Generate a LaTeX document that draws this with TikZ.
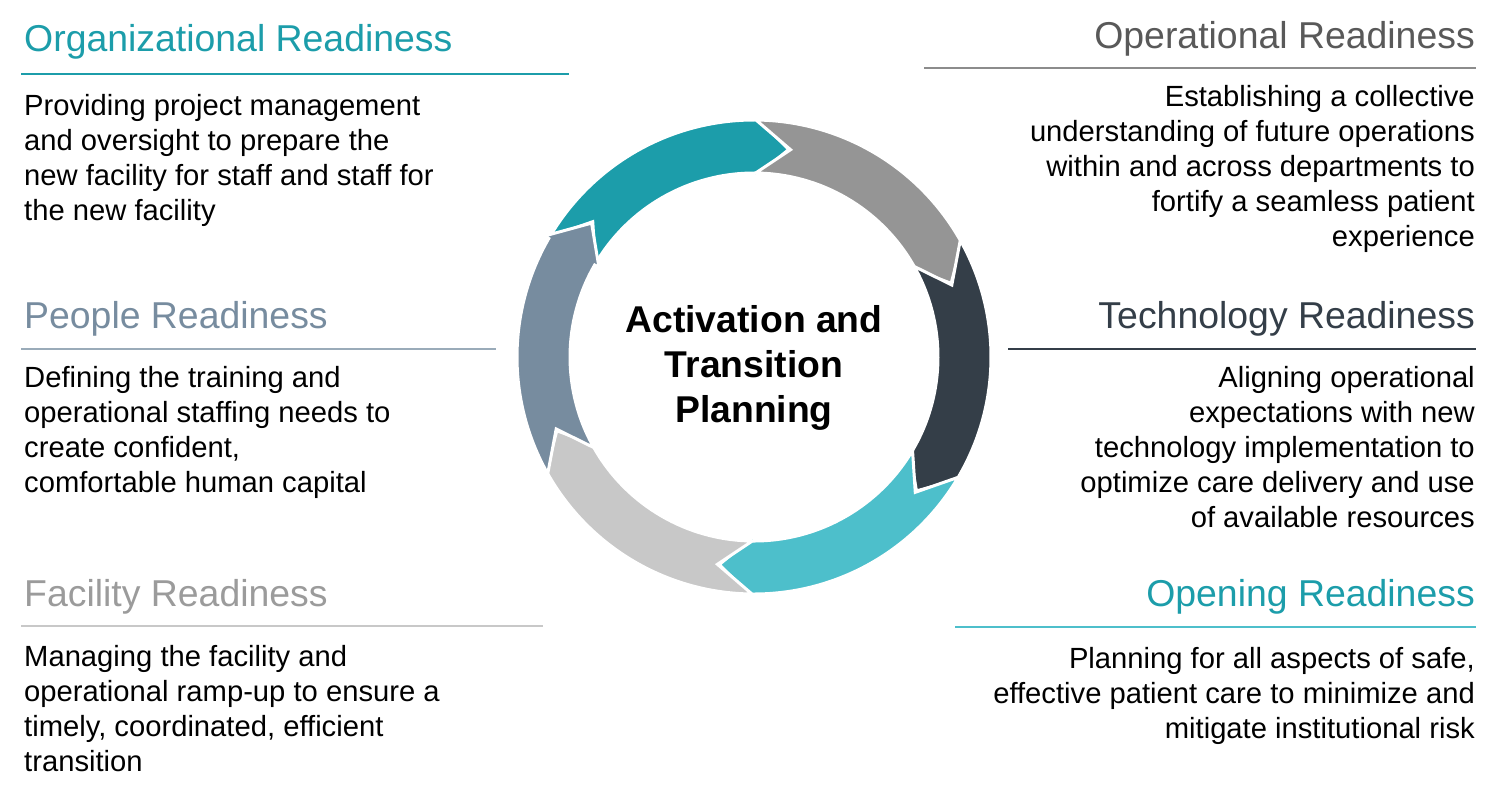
\documentclass[tikz,border=0pt]{standalone}
\usepackage{fontspec}
\setmainfont{Liberation Sans}
\usepackage{xcolor}
\definecolor{cyteal}{RGB}{28,157,170}
\definecolor{cygray}{RGB}{149,149,149}
\definecolor{cydark}{RGB}{52,62,72}
\definecolor{cyaqua}{RGB}{77,191,203}
\definecolor{cylight}{RGB}{200,200,200}
\definecolor{cyslate}{RGB}{119,140,159}
\definecolor{hdgray}{RGB}{89,89,89}
\definecolor{hdlight}{RGB}{155,155,155}
\definecolor{rlgray}{RGB}{140,140,140}
\definecolor{rlslate}{RGB}{154,171,185}
\usepackage{tikz}
\usetikzlibrary{positioning}
% one block arrow of the cycle: tip angle, colour
\newcommand{\cycArrow}[2]{%
  \fill[#2, draw=white, line width=3pt, line join=miter]
    ({#1+69}:237) arc[start angle={#1+69}, end angle={#1+9.5}, radius=237]
    -- ({#1+9.5}:242) -- (#1:210.5) -- ({#1+9.5}:179) -- ({#1+9.5}:184)
    arc[start angle={#1+9.5}, end angle={#1+69}, radius=184]
    -- ({#1+59.5}:210.5) -- cycle;}

\begin{document}
\begin{tikzpicture}[x=1pt, y=-1pt,
  head/.style={font=\fontsize{37.4}{44}\selectfont, inner sep=0pt},
  body/.style={font=\fontsize{29.2}{35}\selectfont, inner sep=0pt},
  hub/.style={font=\fontsize{37.3}{45}\selectfont\bfseries, align=center, inner sep=0pt},
  rule/.style={line width=2pt}]
  \useasboundingbox (0,0) rectangle (1502,796);

  % cycle of arrows
  \begin{scope}[shift={(754,357)}, yscale=-1]
    \cycArrow{80.5}{cyteal}
    \cycArrow{20.5}{cygray}
    \cycArrow{-39.5}{cydark}
    \cycArrow{-99.5}{cyaqua}
    \cycArrow{-159.5}{cylight}
    \cycArrow{140.5}{cyslate}
  \end{scope}
  \node[hub] (hub) at (754,368) {Activation and\\Transition\\Planning};

  % left column (body anchored at its last baseline)
  \node[head, text=cyteal, anchor=base west] (orghd) at (24,51) {Organizational Readiness};
  \draw[rule, cyteal] (21,74) -- (569,74);
  \node[body, align=left, anchor=base west] (orgtx) at (24,220)
    {Providing project management\\and oversight to prepare the\\new facility for staff and staff for\\the new facility};

  \node[head, text=cyslate, anchor=base west] (pplhd) at (24,328) {People Readiness};
  \draw[rule, rlslate] (21,349) -- (496,349);
  \node[body, align=left, anchor=base west] (ppltx) at (24,492)
    {Defining the training and\\operational staffing needs to\\create confident,\\comfortable human capital};

  \node[head, text=hdlight, anchor=base west] (fachd) at (24,606) {Facility Readiness};
  \draw[rule, cylight] (21,626) -- (543,626);
  \node[body, align=left, anchor=base west] (factx) at (24,771)
    {Managing the facility and\\operational ramp-up to ensure a\\timely, coordinated, efficient\\transition};

  % right column
  \node[head, text=hdgray, anchor=base east] (ophd) at (1475,48) {Operational Readiness};
  \draw[rule, rlgray] (924,68) -- (1476,68);
  \node[body, align=right, anchor=base east] (optx) at (1475,246)
    {Establishing a collective\\understanding of future operations\\within and across departments to\\fortify a seamless patient\\experience};

  \node[head, text=cydark, anchor=base east] (techhd) at (1475,328) {Technology Readiness};
  \draw[rule, cydark] (1008,349) -- (1476,349);
  \node[body, align=right, anchor=base east] (techtx) at (1475,527)
    {Aligning operational\\expectations with new\\technology implementation to\\optimize care delivery and use\\of available resources};

  \node[head, text=cyteal, anchor=base east] (openhd) at (1475,606) {Opening Readiness};
  \draw[rule, cyaqua] (955,627) -- (1476,627);
  \node[body, align=right, anchor=base east] (opentx) at (1475,738)
    {Planning for all aspects of safe,\\effective patient care to minimize and\\mitigate institutional risk};
\end{tikzpicture}
\end{document}
